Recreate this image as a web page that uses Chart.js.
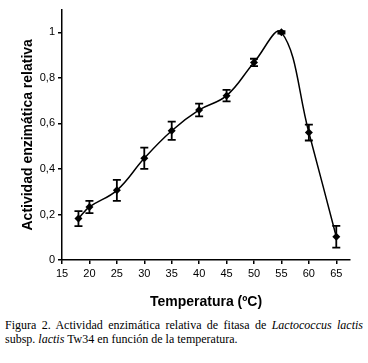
<!DOCTYPE html>
<html>
<head>
<meta charset="utf-8">
<script src="https://cdn.jsdelivr.net/npm/chart.js@4.4.1/dist/chart.umd.min.js"></script>
<style>
  html, body { margin: 0; padding: 0; background: #fff; }
  #wrap { position: relative; width: 368px; height: 315px; }
  #caption {
    font-family: 'Liberation Serif', 'Times New Roman', serif;
    font-size: 12px;
    line-height: 14px;
    color: #000;
    margin: 3px 5px 0 5px;
    width: 358px;
  }
  #caption .l1 { text-align: justify; text-align-last: justify; white-space: nowrap; }
</style>
</head>
<body>
<div id="wrap"><canvas id="chart" width="368" height="315"></canvas></div>
<div id="caption">
  <div class="l1">Figura&nbsp;2. Actividad enzimática relativa de fitasa de <i>Lactococcus lactis</i></div>
  <div>subsp. <i>lactis</i> Tw34 en función de la temperatura.</div>
</div>
<script>
// data
const temps = [18, 20, 25, 30, 35, 40, 45, 50, 55, 60, 65];
const activity = [0.182, 0.233, 0.306, 0.447, 0.568, 0.659, 0.722, 0.868, 1.0, 0.56, 0.102];
const errors = [0.033, 0.027, 0.046, 0.047, 0.04, 0.028, 0.025, 0.016, 0.005, 0.035, 0.048];

// error bars drawn through the chart scales
const errorBars = {
  id: 'errorBars',
  afterDatasetsDraw(chart) {
    const ctx = chart.ctx;
    const x = chart.scales.x;
    const y = chart.scales.y;
    ctx.save();
    ctx.strokeStyle = '#000';
    ctx.lineWidth = 1.8;
    temps.forEach((t, i) => {
      const px = x.getPixelForValue(t);
      const top = y.getPixelForValue(activity[i] + errors[i]);
      const bot = y.getPixelForValue(activity[i] - errors[i]);
      ctx.beginPath();
      ctx.moveTo(px, top);
      ctx.lineTo(px, bot);
      ctx.moveTo(px - 4, top);
      ctx.lineTo(px + 4, top);
      ctx.moveTo(px - 4, bot);
      ctx.lineTo(px + 4, bot);
      ctx.stroke();
    });
    ctx.restore();
  },
};

const tickFont = { family: 'Liberation Sans, Arial, sans-serif', size: 11 };
const titleFont = { family: 'Liberation Sans, Arial, sans-serif', size: 14, weight: 'bold' };

new Chart(document.getElementById('chart'), {
  type: 'line',
  data: {
    datasets: [
      {
        data: temps.map((t, i) => ({ x: t, y: activity[i] })),
        borderColor: '#000',
        borderWidth: 1.5,
        backgroundColor: '#000',
        pointStyle: 'rectRot',
        pointRadius: 4,
        pointBorderWidth: 0,
        tension: 0.4,
        fill: false,
      },
    ],
  },
  options: {
    responsive: false,
    animation: false,
    layout: { padding: { top: 8, left: 0, right: 18, bottom: 0 } },
    plugins: { legend: { display: false }, tooltip: { enabled: false } },
    scales: {
      x: {
        type: 'linear',
        min: 15,
        max: 67.5,
        afterFit: (s) => { s.height = 55; },
        ticks: {
          stepSize: 5,
          includeBounds: false,
          color: '#000',
          font: tickFont,
          padding: 3,
          maxRotation: 0,
        },
        grid: { drawOnChartArea: false, drawTicks: true, tickLength: 4, color: '#000', lineWidth: 1.5 },
        border: { color: '#000', width: 1.5 },
        title: {
          display: true,
          text: 'Temperatura (ºC)',
          color: '#000',
          font: titleFont,
          padding: { top: 0, bottom: 4 },
        },
      },
      y: {
        min: 0,
        max: 1.1,
        afterFit: (s) => { s.width = 62; },
        ticks: {
          stepSize: 0.2,
          includeBounds: false,
          color: '#000',
          font: tickFont,
          padding: 3,
          callback: (v) => String(Math.round(v * 10) / 10).replace('.', ','),
        },
        grid: { drawOnChartArea: false, drawTicks: true, tickLength: 4, color: '#000', lineWidth: 1.5 },
        border: { color: '#000', width: 1.5 },
        title: {
          display: true,
          text: 'Actividad enzimática relativa',
          color: '#000',
          font: titleFont,
          padding: { top: 20, bottom: 0 },
        },
      },
    },
  },
  plugins: [errorBars],
});
</script>
</body>
</html>
